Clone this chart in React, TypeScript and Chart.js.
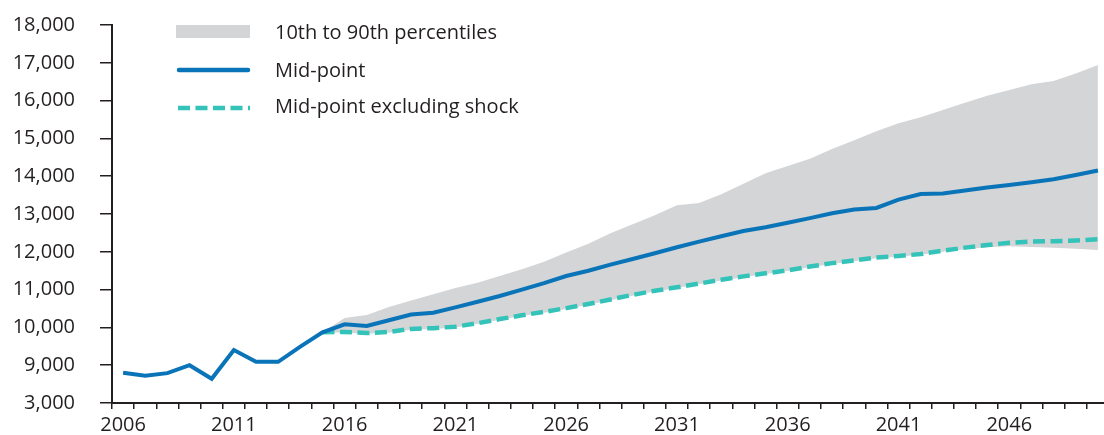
import React, { useEffect, useRef } from "react";
import { Chart, registerables } from "chart.js";

Chart.register(...registerables);

const years = [
  "2006", "2007", "2008", "2009", "2010", "2011", "2012", "2013", "2014", "2015",
  "2016", "2017", "2018", "2019", "2020", "2021", "2022", "2023", "2024", "2025",
  "2026", "2027", "2028", "2029", "2030", "2031", "2032", "2033", "2034", "2035",
  "2036", "2037", "2038", "2039", "2040", "2041", "2042", "2043", "2044", "2045",
  "2046", "2047", "2048", "2049", "2050",
];

// Mid-point, 2006-2050
const midPoint = [
  8800, 8720, 8790, 9000, 8640, 9400, 9090, 9090, 9490, 9870,
  10080, 10040, 10190, 10340, 10390, 10530, 10680, 10830, 11000, 11170,
  11360, 11500, 11660, 11810, 11960, 12120, 12270, 12410, 12550, 12650,
  12770, 12890, 13020, 13120, 13160, 13380, 13530, 13540, 13620, 13700,
  13770, 13840, 13920, 14030, 14150,
];

// Mid-point excluding shock, 2015-2050
const midPointExShock = [
  9870, 9880, 9850, 9880, 9960, 9980, 10020, 10110, 10220, 10320,
  10410, 10510, 10620, 10740, 10860, 10970, 11060, 11160, 11260, 11350,
  11430, 11510, 11610, 11700, 11770, 11850, 11890, 11940, 12030, 12110,
  12180, 12240, 12270, 12280, 12300, 12330,
];

// 90th percentile, 2015-2050
const p90 = [
  9870, 10250, 10330, 10540, 10710, 10880, 11040, 11180, 11360, 11540,
  11740, 11980, 12210, 12490, 12730, 12970, 13230, 13290, 13520, 13800,
  14080, 14270, 14460, 14720, 14950, 15190, 15400, 15560, 15750, 15940,
  16130, 16280, 16430, 16520, 16720, 16940,
];

// 10th percentile, 2015-2050
const p10 = [
  9870, 9860, 9830, 9860, 9940, 9960, 10000, 10090, 10200, 10300,
  10390, 10490, 10600, 10720, 10840, 10950, 11040, 11140, 11240, 11330,
  11410, 11490, 11590, 11680, 11750, 11830, 11870, 11920, 12000, 12070,
  12120, 12150, 12130, 12110, 12080, 12050,
];

const xTickLabels = ["2006", "2011", "2016", "2021", "2026", "2031", "2036", "2041", "2046"];
const yAxisMin = 8000;
const yAxisMax = 18000;
const yAxisStep = 1000;
const yBreakLabel = "3,000";
const legendLabels = ["10th to 90th percentiles", "Mid-point", "Mid-point excluding shock"];

const FONT = "'Open Sans', sans-serif";
const INK = "#231f20";
const BLUE = "#0a74b9";
const TEAL = "#33c3b8";
const GRAY = "#d4d5d7";

function padToYears(series: number[]): (number | null)[] {
  const lead = years.length - series.length;
  return [...Array(lead).fill(null), ...series];
}

const legendPlugin = {
  id: "customLegend",
  afterDraw(chart: any) {
    const ctx = chart.ctx as CanvasRenderingContext2D;
    ctx.save();
    const sx0 = 176;
    const sx1 = 250;
    const tx = 275;
    ctx.fillStyle = GRAY;
    ctx.fillRect(sx0, 25, sx1 - sx0, 13);
    ctx.strokeStyle = BLUE;
    ctx.lineWidth = 4.5;
    ctx.lineCap = "round";
    ctx.beginPath();
    ctx.moveTo(sx0 + 3, 70);
    ctx.lineTo(sx1 - 2, 70);
    ctx.stroke();
    ctx.strokeStyle = TEAL;
    ctx.lineCap = "butt";
    ctx.setLineDash([12, 5.5]);
    ctx.beginPath();
    ctx.moveTo(sx0 + 2, 108);
    ctx.lineTo(sx1, 108);
    ctx.stroke();
    ctx.setLineDash([]);
    ctx.fillStyle = INK;
    ctx.font = `20px ${FONT}`;
    ctx.textAlign = "left";
    ctx.textBaseline = "alphabetic";
    ctx.fillText(legendLabels[0], tx, 39);
    ctx.fillText(legendLabels[1], tx, 77);
    ctx.fillText(legendLabels[2], tx, 113);
    ctx.restore();
  },
};

export default function App() {
  const canvasRef = useRef<HTMLCanvasElement | null>(null);

  useEffect(() => {
    if (!canvasRef.current) return;
    Chart.defaults.font.family = FONT;
    const chart = new Chart(canvasRef.current, {
      type: "line",
      data: {
        labels: years,
        datasets: [
          {
            label: legendLabels[1],
            data: midPoint,
            borderColor: BLUE,
            borderWidth: 4,
            pointRadius: 0,
            fill: false,
            tension: 0,
            order: 0,
          },
          {
            label: legendLabels[2],
            data: padToYears(midPointExShock),
            borderColor: TEAL,
            borderWidth: 4.5,
            borderDash: [12, 5.5],
            pointRadius: 0,
            fill: false,
            tension: 0,
            order: 1,
          },
          {
            label: legendLabels[0],
            data: padToYears(p90),
            borderWidth: 0,
            borderColor: "rgba(0,0,0,0)",
            backgroundColor: GRAY,
            pointRadius: 0,
            fill: "+1",
            tension: 0,
            order: 2,
          },
          {
            label: "10th percentile",
            data: padToYears(p10),
            borderWidth: 0,
            borderColor: "rgba(0,0,0,0)",
            pointRadius: 0,
            fill: false,
            tension: 0,
            order: 3,
          },
        ],
      },
      options: {
        animation: false,
        responsive: false,
        maintainAspectRatio: false,
        layout: { padding: { top: 25, right: 0, bottom: 0, left: 0 } },
        plugins: {
          legend: { display: false },
          tooltip: { enabled: false },
        },
        scales: {
          x: {
            type: "category",
            offset: true,
            border: { display: true, color: INK, width: 2 },
            grid: {
              offset: true,
              drawOnChartArea: false,
              drawTicks: true,
              tickLength: 6,
              color: INK,
              lineWidth: 1.5,
            },
            ticks: {
              autoSkip: false,
              maxRotation: 0,
              minRotation: 0,
              padding: 4,
              color: INK,
              font: { size: 20, family: FONT },
              callback: function (this: any, value: any) {
                const lab = this.getLabelForValue(value);
                return xTickLabels.includes(lab) ? lab : "";
              },
            },
            afterFit: (scale: any) => {
              scale.height = 32;
            },
          },
          y: {
            type: "linear",
            min: yAxisMin,
            max: yAxisMax,
            border: { display: true, color: INK, width: 2 },
            grid: {
              drawOnChartArea: false,
              drawTicks: true,
              tickLength: 12,
              color: INK,
              lineWidth: 1.5,
            },
            ticks: {
              stepSize: yAxisStep,
              padding: 25,
              color: INK,
              font: { size: 20, family: FONT },
              callback: (value: any) =>
                Number(value) === yAxisMin ? yBreakLabel : Number(value).toLocaleString("en-US"),
            },
            afterFit: (scale: any) => {
              scale.width = 112;
              scale.paddingTop = 0;
              scale.paddingBottom = 0;
            },
          },
        },
      },
      plugins: [legendPlugin],
    });
    return () => chart.destroy();
  }, []);

  return (
    <div
      style={{
        position: "fixed",
        left: 0,
        top: 0,
        width: 1104,
        height: 435,
        overflow: "hidden",
        background: "#ffffff",
      }}
    >
      <canvas ref={canvasRef} width={1109} height={435} style={{ display: "block" }} />
    </div>
  );
}
